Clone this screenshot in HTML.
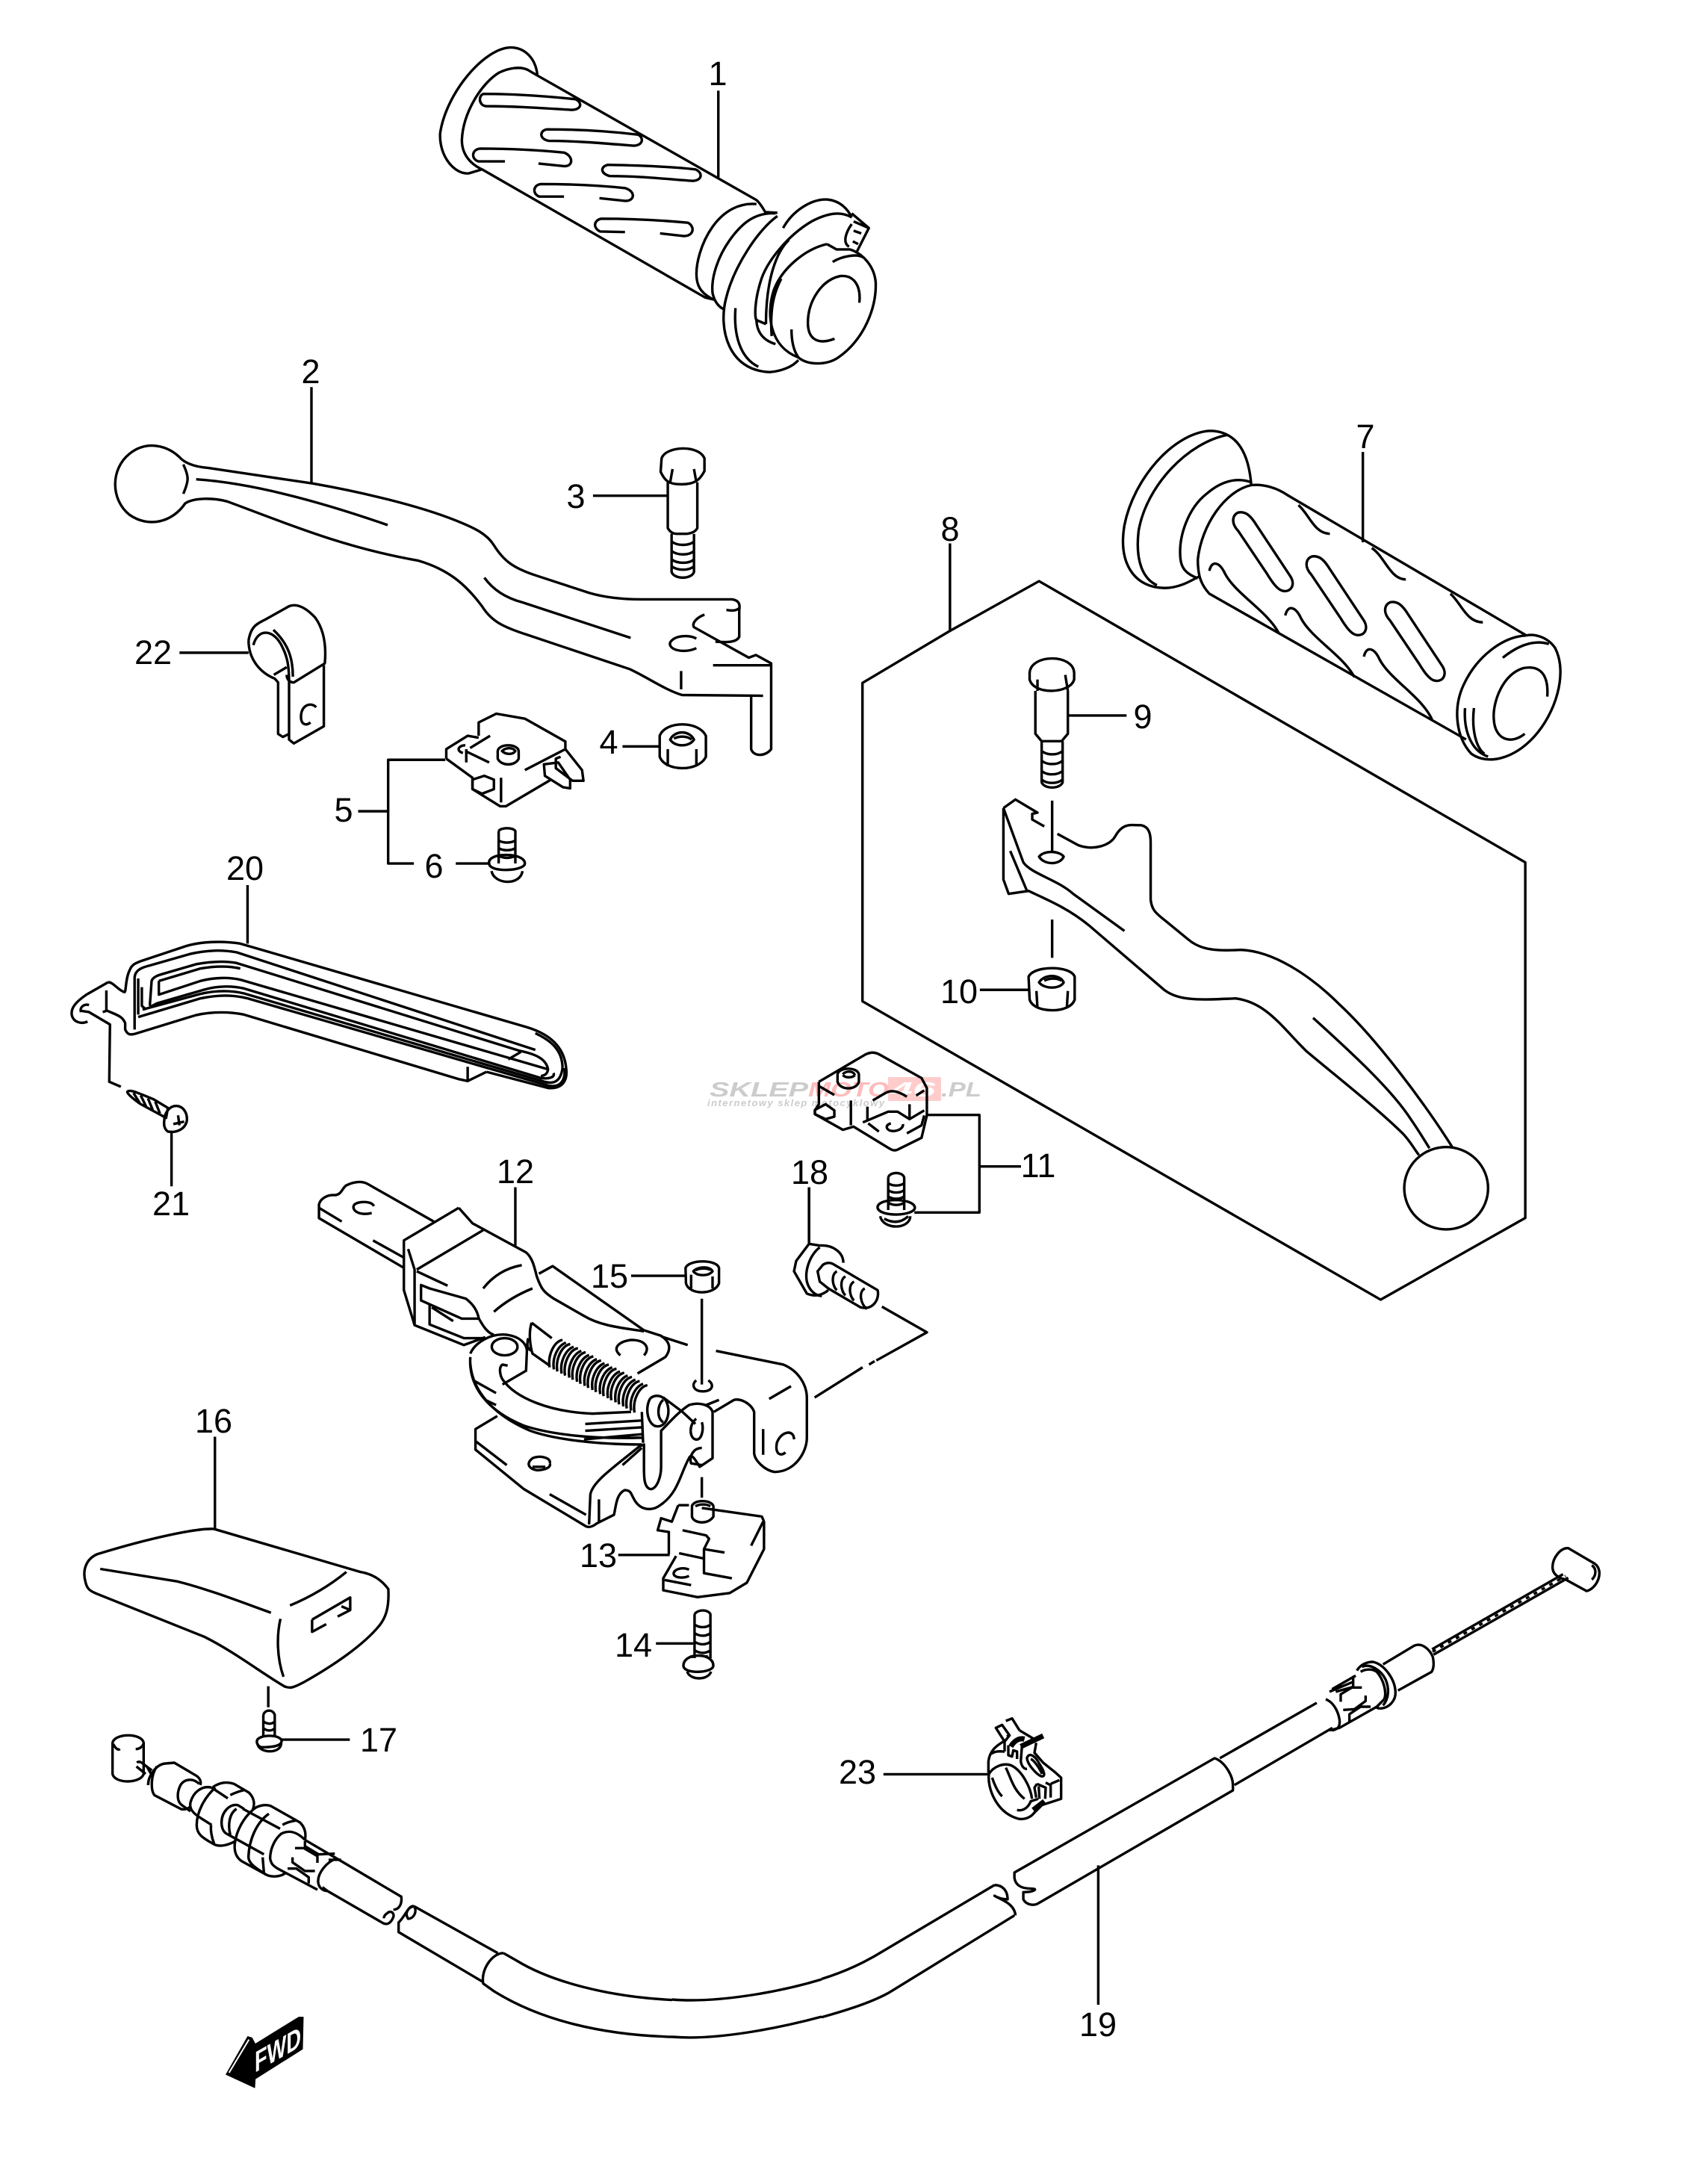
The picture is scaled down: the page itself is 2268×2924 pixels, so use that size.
<!DOCTYPE html>
<html><head><meta charset="utf-8"><title>Parts diagram</title>
<style>
html,body{margin:0;padding:0;background:#fff;width:2268px;height:2924px;overflow:hidden}
svg{display:block}
path,ellipse{vector-effect:non-scaling-stroke}
.d{fill:none;stroke:#000;stroke-width:3.4;stroke-linejoin:round;stroke-linecap:butt}
.t text{font-family:"Liberation Sans",sans-serif;font-size:45px;text-anchor:middle;fill:#000}
.w text{font-family:"Liberation Sans",sans-serif;font-weight:bold;font-style:italic}
</style></head><body>
<svg width="2268" height="2924" viewBox="0 0 2268 2924" xmlns="http://www.w3.org/2000/svg">
<rect width="2268" height="2924" fill="#fff"/>
<g class="w">
<rect x="1189" y="1442" width="71" height="32" fill="#fcc"/>
<text x="950" y="1468" font-size="28" fill="#ccc" textLength="132" lengthAdjust="spacingAndGlyphs">SKLEP</text>
<text x="1082" y="1468" font-size="28" fill="#fbb" textLength="108" lengthAdjust="spacingAndGlyphs">MOTO</text>
<text x="1192" y="1468" font-size="28" fill="#fff" textLength="60" lengthAdjust="spacingAndGlyphs">46</text>
<text x="1260" y="1468" font-size="28" fill="#ccc" textLength="54" lengthAdjust="spacingAndGlyphs">.PL</text>
<text x="947" y="1481" font-size="13" fill="#ccc" textLength="237" lengthAdjust="spacing">internetowy sklep motocyklowy</text>
</g>
<g class="d">
<!-- Z1 grip 1 -->
<g transform="translate(500,0) scale(.5102,.3571)">
<path d="M905 340L905 665"/>
<path d="M430 280C425 215 395 178 360 178C290 180 190 350 175 500C172 590 215 655 250 650L285 635"/>
<path d="M430 283L405 262C385 248 355 255 330 272C285 310 235 420 232 525C232 580 255 615 285 635"/>
<path d="M430 283L1005 750C1015 762 1022 780 1028 795L1060 798"/>
<path d="M285 635L870 1115L890 1122"/>
<path d="M1005 765C960 760 920 790 890 850C860 910 845 990 848 1040C850 1080 865 1105 895 1125"/>
<path d="M1055 800C1000 795 965 840 935 900C905 960 885 1040 890 1100C895 1130 905 1150 920 1160"/>
<path d="M1075 855C1100 790 1150 745 1190 748C1225 752 1245 785 1255 815"/>
<path d="M1060 810C1010 860 945 1000 925 1120C905 1230 930 1390 1040 1395C1070 1392 1100 1375 1115 1350"/>
<path d="M950 1155C945 1250 960 1340 1010 1375"/>
<path d="M1255 815C1225 790 1190 800 1150 830C1090 880 1030 980 1015 1060C1000 1130 1000 1190 1005 1200L1030 1215"/>
<path d="M1005 1195C1005 1240 1020 1275 1055 1290"/>
<path d="M1090 900C1060 940 1030 1040 1030 1215"/>
<path d="M1190 915C1130 935 1070 1010 1050 1090C1030 1180 1040 1300 1115 1340C1140 1370 1190 1370 1220 1340C1290 1270 1320 1150 1318 1060C1315 1000 1285 950 1250 935L1215 935L1190 915"/>
<path d="M1205 982C1230 960 1270 950 1285 965"/>
<path d="M1275 1135C1280 1070 1260 1030 1225 1035C1175 1050 1140 1130 1140 1210C1140 1270 1165 1295 1210 1270"/>
<path d="M1097 1235C1097 1290 1105 1320 1115 1340"/>
<path d="M1070 1045C1050 1100 1040 1160 1045 1260"/>
<path d="M1255 800L1300 855L1268 945M1260 830L1300 855M1255 840C1240 870 1230 910 1248 925M1260 865L1280 875M1258 905L1272 915"/>
<path d="M290 352C370 352 450 360 530 372C550 385 545 412 520 412C440 405 370 398 295 398C275 395 275 355 290 352Z"/>
<path d="M455 485C540 485 620 492 695 505C712 520 705 548 680 546C610 538 530 528 460 528C435 522 435 490 455 485Z"/>
<path d="M345 605L275 605C255 595 258 560 280 557C350 557 430 562 500 572C525 585 525 625 500 623L433 613"/>
<path d="M615 618C700 620 780 625 845 635C868 650 860 680 835 678C760 670 690 660 620 660C595 650 595 625 615 618Z"/>
<path d="M500 737L435 737C415 725 420 692 440 690C510 690 590 695 660 705C690 718 685 755 660 753L593 743"/>
<path d="M660 870L595 868C575 855 578 825 598 820C670 820 750 825 825 835C845 850 840 885 815 885L752 875"/>
</g>
<!-- Z2 lever 2, bolt, nut, clip, switch -->
<g transform="translate(100,480) scale(.6378,.5102)">
<path d="M497 75L497 328"/>
<path d="M225 265C195 225 150 215 115 250C75 290 75 370 115 410C155 445 205 430 232 380C250 365 290 365 320 375C440 430 560 495 720 530C790 555 825 600 855 650C875 690 900 705 950 725L1165 815C1200 835 1240 870 1275 883L1445 885"/>
<path d="M225 265C240 280 260 285 280 287L500 328C600 350 720 385 800 425C840 445 865 460 880 490C900 530 920 550 970 570L1080 615C1115 628 1150 632 1190 632L1380 632C1395 635 1397 645 1395 660L1395 730C1390 745 1370 745 1345 743"/>
<path d="M1395 655C1385 665 1375 660 1368 660"/>
<path d="M1322 672C1305 680 1295 695 1300 705L1415 785L1430 778L1462 800L1462 1025C1450 1045 1425 1045 1420 1025L1420 885"/>
<path d="M1340 805L1462 805M1273 820L1273 868"/>
<path d="M1305 735C1290 725 1260 725 1250 745C1245 765 1280 775 1305 760"/>
<path d="M255 317C350 325 480 360 657 437M228 278C240 310 240 320 228 355M860 575C880 610 910 630 940 640L1167 733"/>
<path d="M1232 262C1240 230 1310 225 1322 262L1322 295C1312 320 1300 330 1275 330C1250 330 1240 325 1230 297Z"/>
<path d="M1255 290L1250 325M1300 290L1305 325"/>
<path d="M1245 325L1245 445C1250 455 1255 460 1265 460L1285 460C1300 458 1305 450 1307 445L1307 325"/>
<path d="M1253 460L1253 560C1258 580 1295 580 1300 560L1300 460M1253 480C1265 492 1290 492 1300 480M1253 505C1265 517 1290 517 1300 505M1253 527C1265 539 1290 539 1300 527M1253 545C1265 557 1290 557 1300 545"/>
<path d="M1088 360L1245 360"/>
<path d="M1228 990C1240 950 1310 950 1325 990L1325 1045C1310 1085 1240 1085 1228 1045Z"/>
<path d="M1250 1000C1260 975 1290 975 1300 1000C1290 1020 1260 1020 1250 1000ZM1258 997C1270 990 1285 990 1295 1000M1245 1025L1245 1070M1305 1025L1305 1070M1150 1018L1228 1018"/>
<path d="M365 740C370 700 385 695 400 685L450 650C470 640 490 660 505 680C525 715 528 760 525 800L460 850C450 850 445 840 445 830"/>
<path d="M375 752C385 705 420 710 437 760C447 785 450 810 450 850L450 1000L460 1010L523 965L523 805"/>
<path d="M417 712C450 750 458 790 458 835M365 740C365 790 390 825 420 840L427 850L427 985L437 993L450 985M418 830L445 810M507 915C495 900 475 910 475 940C475 960 485 965 495 955M220 772L365 772"/>
<path d="M848 990L848 955L885 932L945 945L1030 1005L1030 1025L945 1080"/>
<path d="M872 990L830 1022M780 1050L780 1025L825 990L848 995M780 1050L835 1100L835 1130L893 1175L905 1175L1000 1105"/>
<path d="M820 1015C805 1015 800 1030 815 1035M822 1025L822 1060M820 1030L870 1060"/>
<path d="M835 1105L860 1095L880 1105L880 1130L855 1142L835 1130ZM895 1100L895 1165"/>
<path d="M888 1030C890 1010 930 1010 932 1030L932 1050C925 1070 895 1070 888 1050ZM897 1030C905 1020 920 1020 925 1030C920 1040 905 1040 897 1030Z"/>
<path d="M1030 1025L1065 1080L1068 1108L1045 1108L1010 1075L1010 1050L1020 1045M985 1065L1015 1060L1040 1105L1040 1128L1025 1125L987 1095Z"/>
<path d="M778 1053L658 1053L658 1325L712 1325M595 1188L658 1188M800 1325L870 1325"/>
<path d="M870 1325C865 1295 945 1295 945 1325C945 1345 870 1350 870 1325ZM875 1345C880 1380 935 1385 940 1345"/>
<path d="M890 1240C895 1230 920 1230 925 1240L925 1325M890 1240L890 1325M890 1265C900 1272 915 1272 925 1265M890 1285C900 1292 915 1292 925 1285M890 1305C900 1312 915 1312 925 1305"/>
</g>
<!-- Z3 box 8, grip 7, lever -->
<g transform="translate(1100,550) scale(.7015,.7653)">
<path d="M245 232L245 385M245 385L415 298L1343 790L1343 1412L1067 1555L78 1033L78 476Z"/>
<path d="M1033 72L1033 230"/>
<path d="M820 130C815 70 790 35 740 35C670 40 595 120 578 200C565 270 600 310 655 310C680 310 700 300 720 290"/>
<path d="M775 42C700 55 620 130 605 210C598 265 615 295 640 305"/>
<path d="M820 125C790 115 760 125 735 145C700 170 680 220 685 260C687 275 695 285 718 293"/>
<path d="M820 130C845 128 870 135 890 148L1345 393M718 260C725 200 770 140 820 130M718 260C718 290 725 305 740 320L1230 575"/>
<path d="M795 178C810 175 820 185 830 200L895 290C905 305 895 318 880 315C870 313 860 300 850 285L795 210C780 195 785 182 795 178Z"/>
<path d="M935 255C950 252 960 262 970 277L1035 367C1045 382 1035 395 1020 392C1010 390 1000 377 990 362L935 287C920 272 925 259 935 255Z"/>
<path d="M1085 335C1100 332 1110 342 1120 357L1185 447C1195 462 1185 475 1170 472C1160 470 1150 457 1140 442L1085 367C1070 352 1075 339 1085 335Z"/>
<path d="M740 280C745 260 760 265 770 285C790 320 850 350 872 388M885 358C890 338 905 343 915 363C935 398 995 428 1017 466M1035 430C1040 410 1055 415 1065 435C1085 470 1145 500 1165 540"/>
<path d="M910 165C930 180 940 215 970 215M1050 240C1075 255 1085 295 1115 295M1200 320C1220 335 1230 370 1262 370"/>
<path d="M1345 393C1360 390 1385 395 1400 415C1425 460 1400 530 1360 570C1320 610 1270 620 1240 600C1210 570 1205 520 1225 480C1250 430 1300 395 1345 393"/>
<path d="M1385 500C1388 460 1370 445 1340 450C1300 460 1280 510 1283 540C1285 575 1315 585 1342 565M1300 432C1330 410 1360 400 1388 408M1228 520C1225 560 1240 595 1272 605M1245 520C1240 560 1250 590 1265 600"/>
<path d="M397 458C400 425 480 425 482 458L482 470C475 495 405 498 397 470ZM412 470L412 490M465 462L470 490"/>
<path d="M408 490L408 565L420 578L458 578L470 565L470 490M420 578L420 650C425 662 455 662 460 650L460 578M420 595C430 603 450 603 460 595M420 612C430 620 450 620 460 612M420 630C430 638 450 638 460 630M420 645C430 653 450 653 460 645M470 533L582 533"/>
<path d="M347 695L370 680L412 703L402 705L402 715L425 727M450 740L490 760C520 770 550 760 560 745C575 720 590 725 610 725C625 728 628 740 628 755L628 855C630 875 640 880 660 895L700 925C725 945 760 945 800 943C860 945 930 985 990 1040C1060 1100 1150 1210 1205 1290"/>
<path d="M347 695L347 820L357 845L395 840C430 855 470 870 510 900L650 1010C680 1035 730 1030 790 1028C850 1035 880 1080 925 1120C990 1170 1060 1220 1110 1265C1125 1280 1130 1290 1140 1302"/>
<path d="M347 695L385 790C400 810 450 820 480 845L578 910M360 770L392 840"/>
<path d="M415 780C425 768 455 770 462 780C455 795 425 795 415 780Z"/>
<path d="M938 1062C1020 1130 1090 1190 1125 1240C1140 1260 1150 1275 1160 1290"/>
<ellipse cx="1192" cy="1360" rx="80" ry="72"/>
<path d="M440 682L440 770M440 890L440 957"/>
<path d="M395 990C405 970 475 970 483 990L483 1030C475 1055 405 1055 397 1030ZM415 1000C425 985 455 985 462 1000C455 1012 425 1012 415 1000ZM425 997C435 992 450 992 458 997M410 1015L412 1045M470 1015L468 1045M302 1013L395 1013"/>
</g>
<!-- Z8 part 11 -->
<g transform="translate(900,1380) scale(.357,.3333)">
<path d="M550 205L725 95C745 85 760 85 780 97L935 190L955 230L955 340L935 430L850 475C835 485 825 480 810 470L680 385L640 398L535 335L535 320L550 295L550 205"/>
<path d="M535 335L535 318L575 295L608 320L608 345L575 355Z"/>
<path d="M620 175C625 145 695 145 700 175L700 205C690 240 630 240 620 205ZM640 175C650 160 680 160 685 178M640 178C650 190 675 190 685 178"/>
<path d="M550 222L608 258M670 280L670 380M732 305L732 360M752 280L800 250C825 235 850 245 880 265M915 260L945 240M715 368L810 325L845 325L890 355L945 320M890 295L890 350M735 372L775 405M880 412L935 380L945 340M865 375C870 400 815 415 805 390C803 380 810 375 820 372"/>
<path d="M955 338L1152 338L1152 730L908 730M1152 545L1308 545M513 630L513 860"/>
<path d="M810 590C815 565 865 565 870 590L870 720M810 590L810 720M810 612C825 625 855 625 870 612M810 640C825 653 855 653 870 640M810 665C825 678 855 678 870 665M810 690C825 703 855 703 870 690"/>
<path d="M770 710C770 670 905 670 910 710C910 745 775 750 770 710ZM780 745C790 800 890 800 893 745M795 755C830 775 860 770 885 745"/>
</g>
<!-- Z4 part 12 etc -->
<g transform="translate(380,1500) scale(.574,.4592)">
<path d="M540 195L540 365M810 453L937 453M975 520L975 770M975 1040L975 1100M780 1267L900 1267M868 1525L955 1525"/>
<path d="M1225 195L1225 360M1225 360L1195 410L1190 440L1220 505C1240 515 1255 510 1270 495M1225 360L1250 365C1280 362 1305 385 1305 415M1250 370C1225 395 1215 440 1220 470C1225 495 1240 512 1255 512"/>
<path d="M1255 425L1245 440L1250 470L1270 490L1345 545C1375 555 1390 520 1385 495L1280 418C1270 412 1258 418 1255 425M1290 440C1275 450 1280 485 1290 495M1310 455C1295 465 1300 500 1310 510M1330 470C1315 480 1320 515 1330 525M1355 490C1340 500 1345 535 1360 550"/>
<path d="M1395 543L1500 618L1382 700M1378 702L1365 712M1350 720L1238 808"/>
<path d="M350 295L195 185C180 175 160 180 145 190C135 200 135 215 120 218C100 215 85 230 82 245L82 285L280 430M82 255L135 295M208 350L280 400M210 250C205 235 175 235 165 245C155 260 175 280 205 270"/>
<path d="M408 255L280 350L280 495L305 597L420 655L470 632M408 255L440 300L565 385C580 400 585 430 590 455C600 490 605 500 630 520L700 570C740 600 790 605 840 615"/>
<path d="M310 435L465 320M290 375L305 435L305 597M310 440L382 482M465 490C490 450 520 430 555 422M490 558C520 525 550 505 580 490"/>
<path d="M320 480L320 525L415 578L455 578C450 550 440 535 425 520L340 490ZM340 535L340 595L420 635L470 635M345 545L395 585M455 578C465 600 475 620 490 625"/>
<path d="M595 447L627 425L840 612L880 628C900 645 905 665 890 690L825 738M880 630L942 655M840 685C855 665 845 640 810 640C780 645 765 665 785 685"/>
<path d="M1008 672L1165 712C1200 730 1220 770 1220 810L1220 925C1220 970 1190 1025 1145 1025C1120 1020 1098 990 1097 970L1097 850C1090 825 1065 810 1050 815L1003 850M1132 812L1183 775M1118 900L1118 975M1190 930C1190 900 1160 905 1150 940C1145 975 1160 980 1170 968M985 830L1015 815"/>
<path d="M435 680C445 650 480 620 520 625C550 630 565 650 567 670L565 730L510 770"/>
<ellipse cx="515" cy="660" rx="30" ry="25"/>
<path d="M522 715L510 712C500 720 505 745 510 755C540 810 620 850 720 855L810 850M435 690C430 780 480 850 560 890C620 915 720 930 835 925M435 710C440 790 490 860 575 905C630 930 730 945 835 945M703 885L835 875M703 905L835 895M700 930L835 915M835 850L838 940M445 760L495 795M470 815L495 830"/>
<path d="M498 862L447 900L447 960L560 1075L700 1180C710 1190 720 1185 730 1175L770 1150C775 1125 775 1090 795 1078C810 1078 810 1090 815 1100C830 1140 860 1140 880 1120C920 1085 925 1030 945 985C950 970 958 985 970 1010L1000 985L1000 850C995 830 970 820 945 830C920 850 900 880 880 905L880 1010C880 1040 870 1075 855 1075C840 1070 840 1040 840 1010L840 945L830 950L790 990C750 1030 720 1060 715 1090L712 1178"/>
<path d="M447 935L520 1005M620 1090L705 1150M735 1105L735 1170M835 955L790 1005M620 1000C625 985 600 975 580 985C565 1000 570 1015 590 1020C610 1020 625 1010 620 1000M580 1010L610 1010"/>
<path d="M962 870C945 885 945 925 960 930C975 935 980 900 975 880M975 955C955 955 945 980 950 1000L975 1005M962 758C950 770 955 790 978 790C1000 790 1005 770 990 758"/>
<path d="M620 720c-5-35 10-75 30-80m-12 92c-5-35 10-75 30-80m-12 92c-5-35 10-75 30-80m-12 92c-5-35 10-75 30-80m-12 92c-5-35 10-75 30-80m-12 92c-5-35 10-75 30-80m-12 92c-5-35 10-75 30-80m-12 92c-5-35 10-75 30-80m-12 92c-5-35 10-75 30-80m-12 92c-5-35 10-75 30-80m-12 92c-5-35 10-75 30-80m-12 92c-5-35 10-75 30-80"/>
<path d="M630 726c-5-35 10-70 28-78m-10 90c-5-35 10-70 28-78m-10 90c-5-35 10-70 28-78m-10 90c-5-35 10-70 28-78m-10 90c-5-35 10-70 28-78m-10 90c-5-35 10-70 28-78m-10 90c-5-35 10-70 28-78m-10 90c-5-35 10-70 28-78m-10 90c-5-35 10-70 28-78m-10 90c-5-35 10-70 28-78m-10 90c-5-35 10-70 28-78"/>
<path d="M855 810C840 840 850 890 870 892C895 895 905 845 890 815C880 800 865 800 855 810M885 815C870 830 870 870 885 880M885 808L930 850L960 885M578 590L625 635M578 590C570 620 575 660 580 680L620 715M570 635C565 660 570 670 580 672"/>
<path d="M920 1122L945 1122M975 1130L1115 1155L1120 1170L1120 1250L1080 1348L1040 1378L965 1390L885 1370L885 1335L915 1270M920 1122L905 1170L880 1160L872 1195L898 1200L898 1265M1118 1170L1090 1240"/>
<path d="M952 1125C955 1105 998 1105 1002 1125L1002 1155C990 1180 955 1175 952 1155ZM960 1125C970 1118 985 1118 995 1125"/>
<path d="M930 1195L985 1210L992 1220L980 1250L980 1320L1045 1335M980 1250L1028 1260M922 1262L978 1277M888 1340L950 1355M945 1310C930 1300 905 1310 910 1325C915 1335 935 1335 945 1328"/>
<path d="M958 1440C965 1425 990 1425 995 1440L995 1568M958 1440L958 1568M958 1470C970 1480 985 1480 995 1470M958 1495C970 1505 985 1505 995 1495M958 1520C970 1530 985 1530 995 1520M958 1545C970 1555 985 1555 995 1545"/>
<path d="M937 430C945 405 1010 405 1015 430L1015 475C1005 510 945 510 938 475ZM955 440C965 425 995 425 1000 440C990 455 965 455 955 440ZM960 437C970 430 990 430 995 437M950 450L950 490M1000 455L1000 490"/>
</g>
<!-- screw 14 lower absolute -->
<path d="M926 2220L926 2216M946 2220L946 2216M915 2230C915 2212 955 2212 955 2230C955 2240 915 2242 915 2230ZM920 2238C924 2250 948 2250 952 2238"/>
<!-- Z5 part 20, screw 21 -->
<g transform="translate(60,1200) scale(.4847,.3333)">
<path d="M560 -45L560 190"/>
<path d="M175 345L115 395C85 425 70 450 75 480C80 505 100 515 118 503M100 465C95 445 110 430 122 437M100 460L122 465L180 515L178 745L210 765"/>
<path d="M175 345C190 345 200 375 220 385C225 385 222 330 235 295C240 275 250 268 270 258L390 200C430 182 490 178 540 190L1330 525C1400 555 1435 610 1440 690C1445 740 1430 775 1390 770L1220 705"/>
<path d="M170 378L170 460L160 465M170 458C195 475 215 480 222 510L222 535C228 555 235 558 250 552L400 485C440 465 500 460 550 475L1145 735L1168 742L1220 705M1168 685L1168 742"/>
<path d="M248 535L248 325C250 295 270 285 290 278L400 232C450 215 490 215 530 225L1355 617"/>
<path d="M290 440L295 340C298 325 310 318 330 310L420 272C460 262 500 260 530 268L1310 620C1360 635 1385 655 1390 695C1388 715 1380 720 1370 722"/>
<path d="M315 340L315 395L430 340C470 325 510 325 540 335L1390 695M315 340L430 290C470 280 510 280 540 290"/>
<path d="M290 445L310 430L440 375C480 358 520 360 550 370L1370 730C1395 735 1410 725 1405 710"/>
<path d="M270 455L430 392C480 375 520 380 550 390L1380 745C1405 755 1425 745 1430 690C1430 620 1400 580 1355 550"/>
<path d="M258 475L258 330M258 485L430 410C480 395 520 395 560 410L1390 760C1420 770 1440 745 1435 690M268 365L268 440L280 455M1280 655L1315 625"/>
<path d="M228 785C235 775 250 785 300 815L340 850L335 890L265 835C245 815 225 790 228 785ZM245 790L262 830M265 800L280 845M285 812L298 858M305 825L318 872"/>
<path d="M330 900C330 870 345 840 365 842C385 845 395 875 392 905C385 940 360 950 340 945C330 935 328 920 330 900ZM368 880L372 920M355 915L385 905M350 950L350 1165"/>
</g>
<!-- Z6 part 16, cable left -->
<g transform="translate(100,2000) scale(.5102,.5102)">
<path d="M368 -150L368 92"/>
<path d="M365 92C320 90 200 115 60 158C30 170 20 200 28 230C32 250 40 255 60 263L340 375C420 415 490 470 550 505C565 512 575 508 600 495C680 450 760 395 800 345C820 320 825 290 823 250C805 225 780 210 750 205L365 92"/>
<path d="M67 197L270 230C350 250 440 285 515 312M565 293C620 270 670 240 713 205M540 328C530 370 530 430 548 480"/>
<path d="M623 330L623 362L660 342M623 330L723 272L723 305L690 322M700 295L723 305"/>
<path d="M508 505L508 560M543 645L722 645M495 580C500 565 520 565 525 580L525 635M495 580L495 635M495 597C505 605 518 605 525 597M495 615C505 623 518 623 525 615"/>
<path d="M478 650C478 630 545 630 543 650C540 665 505 665 490 665C483 663 478 658 478 650ZM480 655C480 680 540 685 542 655"/>
<path d="M890 1082C875 1080 870 1105 850 1125L850 1150L1070 1280M890 1082C875 1085 865 1100 875 1115C890 1115 900 1095 890 1082M890 1082L1110 1205"/>
<path d="M1125 1205C1095 1205 1065 1250 1072 1285L1100 1305C1220 1380 1380 1420 1568 1425M1125 1205L1160 1225C1250 1280 1400 1320 1568 1328"/>
</g>
<!-- left cable fittings, 1:3 trace -->
<g transform="translate(130,2300) scale(.3333)">
<path d="M62 100C70 60 180 60 187 100L187 225C175 265 70 265 62 225ZM65 105C75 125 85 130 92 125M155 125C170 125 185 115 187 100"/>
<path d="M160 180C170 170 180 180 205 200L220 210M158 195L195 225M200 195L215 222"/>
<path d="M205 270C205 230 240 185 275 183L310 180L400 233C415 245 418 255 415 270M240 195C215 230 215 290 230 310L335 365C350 372 370 362 375 355"/>
<path d="M410 265C385 240 350 245 335 270C320 300 320 335 340 350L375 375"/>
<path d="M460 280C420 270 385 300 375 340C370 365 385 380 405 395L460 430"/>
<path d="M475 280C430 320 400 380 400 430C400 465 420 480 465 505C480 515 510 520 555 495"/>
<path d="M460 280L525 323M465 278C490 260 520 255 550 265L610 300C630 320 635 345 625 370M535 310C555 300 570 295 590 290M458 430C455 450 460 480 470 505"/>
<path d="M500 420C500 380 530 345 565 350L590 365M500 420C500 445 510 460 520 465L670 548M560 365C530 385 525 430 535 470M585 365L735 445"/>
<path d="M625 370C590 400 560 450 553 505C550 540 560 560 580 575L680 630C700 640 740 640 760 620M620 375C640 350 680 345 700 355L815 420C835 440 840 465 835 490M745 430C760 420 780 415 800 412M690 385C640 420 610 490 608 560C610 590 650 610 680 630M665 560L670 620"/>
<path d="M835 490C800 455 770 450 740 465C710 490 695 530 695 565C700 590 710 595 725 605L885 690M835 490L980 575L1225 720"/>
<path d="M835 495L835 515L890 548L955 545M795 523L830 523L885 555L885 582M785 560L785 580L835 615L875 615M765 605L800 605L850 640L850 665M930 570L980 570"/>
<path d="M960 565C920 580 885 625 888 660C890 680 905 695 925 695L1150 825C1165 832 1180 825 1190 800C1195 785 1180 770 1165 785C1155 790 1152 800 1152 805M1190 770C1215 770 1225 745 1222 720M905 680L925 695"/>
</g>
<!-- hose connection -->
<path d="M900 2677C960 2682 1044 2667 1100 2650M900 2727C960 2732 1044 2715 1100 2700"/>
<!-- Z7 cable right -->
<g transform="translate(1100,2000) scale(.7015,.4783)">
<path d="M528 1040L528 1430M118 785L320 785"/>
<path d="M0 1358C40 1340 70 1320 100 1295L330 1095M0 1465C50 1445 100 1420 130 1395L368 1180"/>
<path d="M330 1095C345 1095 355 1110 355 1135C345 1135 335 1130 330 1125C340 1135 368 1145 370 1180"/>
<path d="M368 1060L750 740C770 750 785 790 785 815L785 830L415 1145C405 1155 390 1150 385 1135L385 1115C405 1115 415 1105 400 1105C380 1105 370 1095 368 1075Z"/>
<path d="M760 740L945 585M788 815L975 655"/>
<path d="M1165 435L1415 225M1168 450L1425 235"/>
<path d="M1166 442L1420 230" stroke-dasharray="5 7"/>
<path d="M1395 205C1395 180 1410 150 1425 152L1475 195C1495 215 1480 265 1460 272L1420 240C1405 235 1395 225 1395 205ZM1470 200C1480 210 1478 230 1470 240"/>
</g>
<!-- right fitting, 1:3 trace -->
<g transform="translate(1780,2170) scale(.3333)">
<path d="M215 175L340 100C375 85 405 120 415 145C420 170 420 190 410 205L275 280"/>
<path d="M110 200C125 175 150 165 175 165C220 175 265 235 265 290C265 320 240 350 205 352C195 352 190 350 185 345"/>
<path d="M130 185C160 170 205 195 225 235C240 270 240 310 215 340M125 205C140 195 170 190 190 205C220 240 230 290 220 315"/>
<path d="M105 220L10 275M105 222L95 225L95 265L25 285M0 285L95 245"/>
<path d="M130 268L90 268L45 295L45 325M145 300L145 322L100 355L55 358M165 345L125 345L80 375L80 405M220 315L190 345L40 430L0 440"/>
<path d="M-15 315C25 330 45 390 40 415C38 430 25 438 10 440"/>
</g>
<!-- clip 23, 1:3 trace -->
<g transform="translate(1300,2280) scale(.3333)">
<path d="M72 285C65 340 100 440 190 465C215 470 240 460 255 440L285 410L362 385L362 300L340 280L290 240L255 200L262 160"/>
<path d="M72 285C90 255 130 240 160 250C205 270 240 340 245 385"/>
<path d="M70 280L70 235C75 190 105 170 130 155M80 205C100 190 125 195 135 195"/>
<path d="M85 300C95 330 110 360 125 375M140 260C160 300 170 350 215 385M185 430C210 435 230 420 240 395L270 385"/>
<path d="M320 325L355 310M300 320L320 330L320 380M265 325L300 340L298 385M265 325L255 340L262 380M272 335L275 385"/>
<path d="M100 100L125 88L155 130L135 155ZM140 72L165 62L195 110M155 125L145 135M195 110L262 150M135 155L135 195"/>
<path d="M200 175L290 132" stroke-width="7"/>
<path d="M160 175C175 150 195 140 215 145" stroke-width="7"/>
<path d="M150 170L150 210L165 215L170 190L185 195L185 225M205 170L200 235C205 260 215 265 225 265"/>
<path d="M225 220C235 195 260 215 275 245C295 275 300 295 285 295C265 290 225 245 225 220ZM240 225C255 230 280 270 285 285"/>
<path d="M250 430L295 395" stroke-width="7"/>
</g>
</g>
<!-- FWD arrow -->
<g transform="translate(280,2660) scale(.3333)">
<path d="M360 122L378 122L375 250L185 370L183 405L68 352L155 200L172 205L185 230Z" fill="#000" stroke="#000" stroke-width="1" stroke-linejoin="round"/>
<path d="M80 345L160 212" fill="none" stroke="#fff" stroke-width="2"/>
</g>
<text transform="matrix(.7 -.4 0 1 341 2775)" font-family="Liberation Sans,sans-serif" font-weight="bold" font-size="39" fill="#fff">FWD</text>
<g class="t">
<text x="961" y="114">1</text><text x="416" y="513">2</text><text x="771" y="680">3</text><text x="815" y="1009">4</text>
<text x="460" y="1100">5</text><text x="581" y="1175">6</text><text x="1828" y="600">7</text><text x="1272" y="724">8</text>
<text x="1530" y="975">9</text><text x="1284" y="1343">10</text><text x="1390" y="1576">11</text><text x="690" y="1584">12</text>
<text x="801" y="2098">13</text><text x="848" y="2218">14</text><text x="816" y="1724">15</text><text x="286" y="1918">16</text>
<text x="507" y="2345">17</text><text x="1084" y="1585">18</text><text x="1470" y="2726">19</text><text x="328" y="1178">20</text>
<text x="229" y="1627">21</text><text x="205" y="889">22</text><text x="1148" y="2388">23</text>
</g>
</svg>
</body></html>
